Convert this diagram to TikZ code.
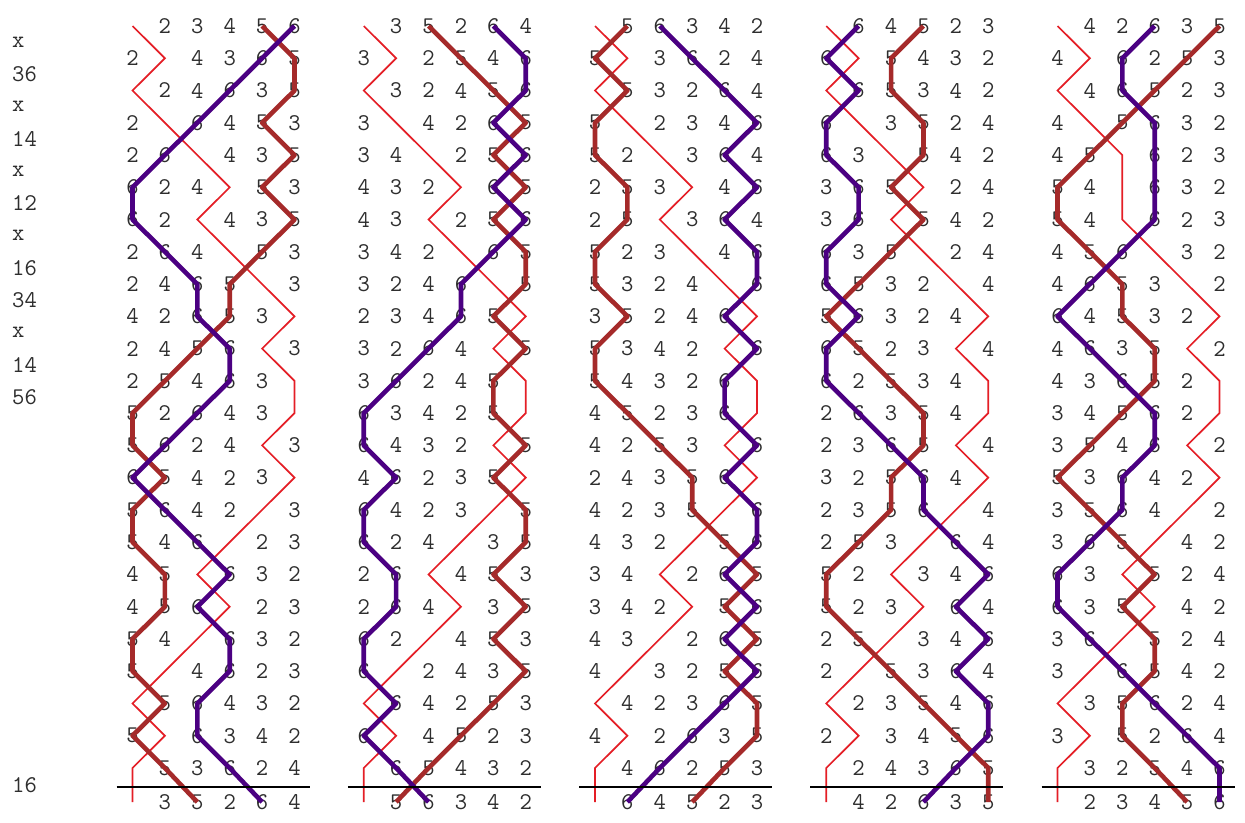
\documentclass[tikz,border=0pt]{standalone}
\usepackage{fontspec}
\definecolor{bellred}{RGB}{228,30,38}
\definecolor{bellpurple}{RGB}{75,0,130}
\definecolor{bellbrown}{RGB}{165,42,42}
\tikzset{
  dig/.style={font=\ttfamily\fontsize{24}{24}\selectfont, text=black!82, inner sep=0pt},
  pnlabel/.style={font=\ttfamily\fontsize{24}{24}\selectfont\addfontfeature{LetterSpace=14}, text=black!82, inner sep=0pt, anchor=west},
  trebleline/.style={draw=bellred, line width=1.7pt, line join=miter},
  fiveline/.style={draw=bellbrown, line width=4.6pt, line join=round},
  sixline/.style={draw=bellpurple, line width=4.6pt, line join=round},
  leadend/.style={draw=black, line width=2pt}
}
\newcommand\bellcell[4]{%
  \pgfmathsetmacro\cellx{132.5+(#1-1)*231.25+(#3-1)*32.4}%
  \pgfmathsetmacro\celly{26+(#2-1)*32.26+(#2>24)*1.8}%
  \ifnum#4=1\relax
    \coordinate (c#1-#2-#4) at (\cellx,\celly);
  \else
    \node[dig] (c#1-#2-#4) at (\cellx,\celly) {#4};
  \fi}
\def\bellrowi#1#2#3#4#5#6\relax#7#8{%
  \bellcell{#7}{#8}{1}{#1}\bellcell{#7}{#8}{2}{#2}\bellcell{#7}{#8}{3}{#3}%
  \bellcell{#7}{#8}{4}{#4}\bellcell{#7}{#8}{5}{#5}\bellcell{#7}{#8}{6}{#6}}
\newcommand\bellrow[3]{\edef\belltmp{#3}\expandafter\bellrowi\belltmp\relax{#1}{#2}}
\newcommand\bellcolumn[2]{%
  \foreach \rowdigits [count=\ri] in {#2} {\bellrow{#1}{\ri}{\rowdigits}}
  \draw[trebleline] (c#1-1-1.center) \foreach \ri in {2,...,25}{ -- (c#1-\ri-1.center)};
  \draw[fiveline] (c#1-1-5.center) \foreach \ri in {2,...,25}{ -- (c#1-\ri-5.center)};
  \draw[sixline] (c#1-1-6.center) \foreach \ri in {2,...,25}{ -- (c#1-\ri-6.center)};
  \coordinate (barL#1) at ({132.5+(#1-1)*231.25-16},786.5);
  \coordinate (barR#1) at ({132.5+(#1-1)*231.25+5*32.4+15},786.5);
  \draw[leadend] (barL#1) -- (barR#1);
}
\begin{document}
\begin{tikzpicture}[x=1pt,y=-1pt]
\fill[white] (0,0) rectangle (1245,822);
\useasboundingbox (0,0) rectangle (1245,822);
\bellcolumn{1}{123456,214365,124635,216453,261435,624153,621435,264153,246513,426531,245613,254631,526431,562413,654231,564213,546123,451632,456123,541632,514623,156432,516342,153624,135264}
\bellcolumn{2}{135264,312546,132456,314265,341256,432165,431256,342165,324615,234651,326415,362451,634251,643215,462351,642315,624135,261453,264135,621453,612435,164253,614523,165432,156342}
\bellcolumn{3}{156342,513624,153264,512346,521364,253146,251364,523146,532416,352461,534216,543261,452361,425316,243561,423516,432156,341265,342156,431265,413256,142365,412635,146253,164523}
\bellcolumn{4}{164523,615432,165342,613524,631542,365124,361542,635124,653214,563241,652314,625341,263541,236514,325641,235614,253164,521346,523164,251346,215364,123546,213456,124365,142635}
\bellcolumn{5}{142635,416253,146523,415632,451623,541632,541623,456132,465312,645321,463512,436521,345621,354612,536421,356412,365142,631524,635142,361524,316542,135624,315264,132546,123456}
\foreach \lab [count=\li] in {x,36,x,14,x,12,x,16,34,x,14,56}
  \node[pnlabel] (pn\li) at (12,{42+(\li-1)*32.26}) {\lab};
\node[pnlabel] (pnle) at (12,785) {16};
\end{tikzpicture}
\end{document}
